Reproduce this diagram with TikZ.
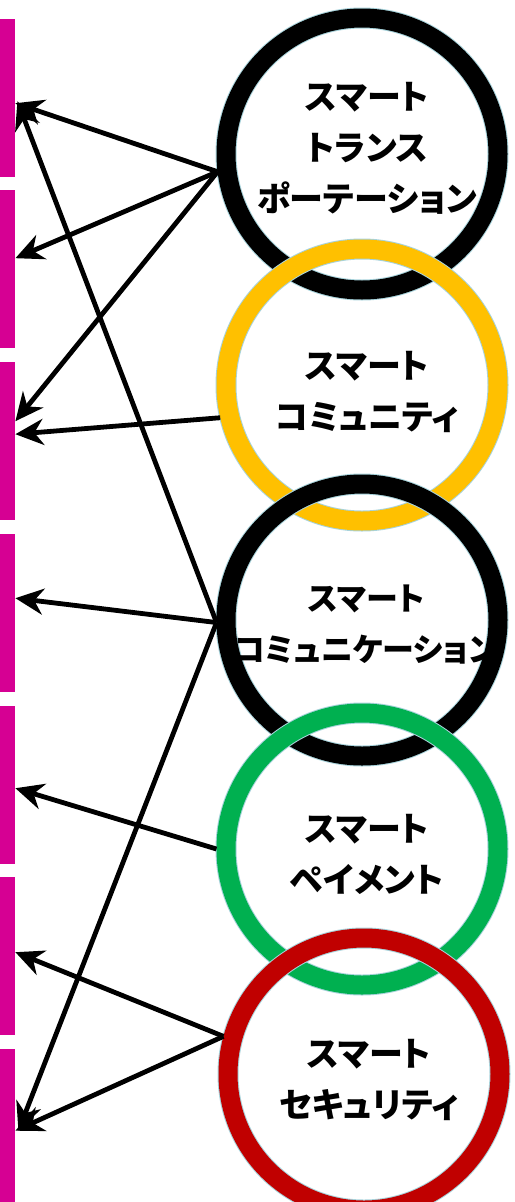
\documentclass[tikz,border=0pt]{standalone}
\usepackage{fontspec}
\newfontfamily\jp{Noto Sans CJK JP}[RawFeature=+palt]
\usetikzlibrary{arrows.meta}
\definecolor{barmag}{HTML}{D60093}
\definecolor{ringyellow}{HTML}{FFC000}
\definecolor{ringgreen}{HTML}{00B050}
\definecolor{ringred}{HTML}{C00000}
\definecolor{ringedge}{HTML}{A8D3DB}
\begin{document}
\begin{tikzpicture}[x=1pt,y=-1pt,
  bar/.style={fill=barmag, draw=none, minimum width=15pt, inner sep=0pt, anchor=north west},
  ring/.style={circle, minimum size=272pt, inner sep=0pt, outer sep=9.5pt, draw=#1, line width=19pt,
               preaction={draw=ringedge, line width=21pt}},
  lbl/.style={font=\jp\bfseries\fontsize{34}{51}\selectfont, align=center, text=black},
  arr/.style={-{Stealth[length=28pt,width=26pt,inset=9pt]}, line width=4.8pt, black}]
\useasboundingbox (0,0) rectangle (514,1202);
% bars
\node[bar, minimum height=158pt] (b1) at (0,19) {};
\node[bar, minimum height=158pt] (b2) at (0,190) {};
\node[bar, minimum height=158pt] (b3) at (0,362) {};
\node[bar, minimum height=158pt] (b4) at (0,534) {};
\node[bar, minimum height=158pt] (b5) at (0,706) {};
\node[bar, minimum height=158pt] (b6) at (0,877) {};
\node[bar, minimum height=153pt] (b7) at (0,1049) {};
% rings
\node[ring=black] (c1) at (362,154) {};
\node[ring=ringyellow] (c2) at (362,385) {};
\node[ring=black] (c3) at (362,620) {};
\node[ring=ringgreen] (c4) at (362,849) {};
\node[ring=ringred] (c5) at (364,1074) {};
% labels
\node[lbl] (t1) at (367,148) {スマート\\トランス\\ポーテーション};
\node[lbl] (t2) at (367,392) {スマート\\コミュニティ};
\node[lbl, font=\jp\bfseries\fontsize{32}{51}\selectfont] (t3) at (366,625) {スマート\\コミュニケーション};
\node[lbl] (t4) at (367,854) {スマート\\ペイメント};
\node[lbl] (t5) at (369,1080) {スマート\\セキュリティ};
% arrows
\draw[arr] (c1.187) -- ([yshift=-5pt]b1.east);
\draw[arr] (c1.187) -- ([yshift=11pt]b2.east);
\draw[arr] (c1.187) -- ([yshift=20pt]b3.east);
\draw[arr] (c2.193) -- ([yshift=7pt]b3.east);
\draw[arr] (c3.181) -- ([yshift=-3pt,xshift=2pt]b1.east);
\draw[arr] (c3.181) -- ([yshift=15pt]b4.east);
\draw[arr] (c3.181) -- ([yshift=-5pt,xshift=3pt]b7.east);
\draw[arr] (c4.180) -- ([yshift=-3pt]b5.east);
\draw[arr] (c5.165) -- ([yshift=4pt]b6.east);
\draw[arr] (c5.165) -- ([yshift=-5pt]b7.east);
\end{tikzpicture}
\end{document}
